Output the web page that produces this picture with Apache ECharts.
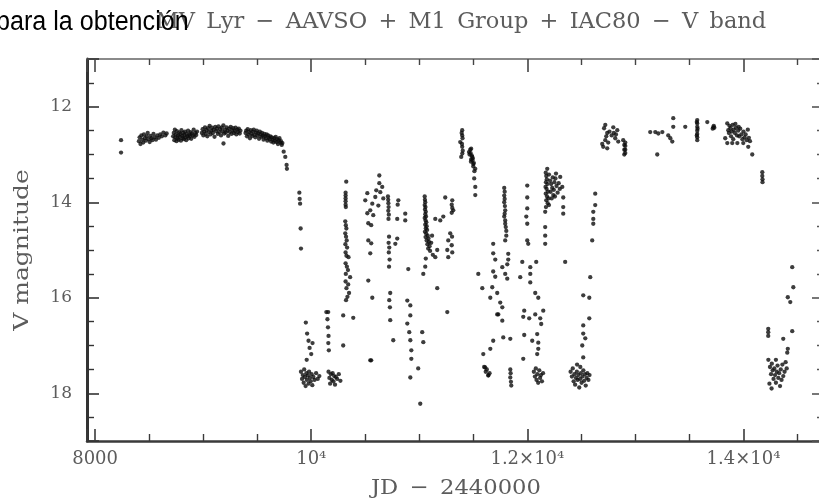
<!DOCTYPE html>
<html>
<head>
<meta charset="utf-8">
<script src="https://cdn.jsdelivr.net/npm/echarts@6/dist/echarts.min.js"></script>
<style>
  html, body { margin: 0; padding: 0; background: #fff; }
  #chart { width: 819px; height: 499px; }
</style>
</head>
<body>
<div id="chart"></div>
<script>
// MV Lyr light curve, V band. Each entry: [JD - 2440000, V magnitude]
const earlyPoints = [[8240, 12.70], [8240, 12.96]];

const highState1 = [
  [8405,12.72],[8412,12.64],[8420,12.78],[8428,12.60],[8436,12.69],[8445,12.75],[8452,12.58],[8460,12.66],
  [8470,12.71],[8478,12.62],[8487,12.55],[8495,12.68],[8505,12.74],[8513,12.61],[8522,12.66],[8530,12.70],
  [8540,12.57],[8552,12.64],[8563,12.69],[8575,12.60],[8590,12.65],[8603,12.58],[8618,12.62],[8632,12.54],
  [8650,12.60],[8662,12.56],
  [8722,12.62],[8728,12.55],[8733,12.70],[8738,12.48],[8742,12.64],[8748,12.58],[8753,12.72],[8757,12.51],
  [8762,12.66],[8768,12.60],[8773,12.69],[8778,12.54],[8783,12.63],[8789,12.57],[8794,12.71],[8799,12.49],
  [8805,12.61],[8810,12.66],[8815,12.55],[8821,12.68],[8826,12.59],[8832,12.52],[8837,12.64],[8843,12.70],
  [8848,12.57],[8854,12.62],[8860,12.50],[8866,12.66],[8872,12.58],[8878,12.61],[8884,12.53],[8890,12.67],
  [8897,12.56],[8905,12.60],[8912,12.48],[8920,12.63],[8928,12.55],[8936,12.59],[8943,12.52],
  [8988,12.55],[8995,12.47],[9002,12.60],[9010,12.52],[9017,12.43],[9024,12.57],[9031,12.49],[9038,12.62],
  [9046,12.45],[9053,12.53],[9060,12.40],[9068,12.58],[9075,12.50],[9082,12.44],[9090,12.55],[9097,12.48],
  [9105,12.63],[9112,12.42],[9120,12.51],[9127,12.46],[9135,12.57],[9142,12.41],[9150,12.53],[9157,12.47],
  [9165,12.60],[9172,12.44],[9180,12.52],[9187,12.39],[9188,12.77],[9195,12.56],[9202,12.48],[9210,12.54],
  [9217,12.43],[9225,12.50],[9232,12.61],[9240,12.46],[9247,12.53],[9255,12.42],[9262,12.57],[9270,12.49],
  [9277,12.45],[9285,12.55],[9292,12.51],[9300,12.44],[9307,12.58],[9315,12.48],[9322,12.53],[9330,12.46],
  [9338,12.56],[9345,12.50],
  [9392,12.55],[9398,12.50],[9405,12.62],[9412,12.47],[9419,12.58],[9426,12.53],[9433,12.66],[9440,12.49],
  [9447,12.57],[9454,12.61],[9461,12.52],[9468,12.48],[9475,12.59],[9482,12.64],[9489,12.54],[9496,12.50],
  [9503,12.60],[9510,12.56],[9517,12.67],[9524,12.52],[9531,12.58],[9538,12.63],[9545,12.55],[9552,12.61],
  [9559,12.69],[9566,12.57],[9573,12.62],[9580,12.66],[9587,12.58],[9594,12.71],[9601,12.60],[9608,12.65],
  [9615,12.68],[9622,12.62],[9629,12.73],[9636,12.64],[9643,12.69],[9650,12.75],[9657,12.66],[9664,12.71],
  [9671,12.63],[9678,12.74],[9685,12.68],[9692,12.78],[9699,12.70],[9706,12.66],[9713,12.75],[9720,12.72],
  [9727,12.80],[9733,12.76],
  [9745,12.94],[9760,13.05],[9772,13.22],[9775,13.30]
];

const lowState1 = [
  [9890,13.80],[9893,13.93],[9897,14.03],[9902,14.55],[9905,14.97],
  [9905,17.55],[9915,17.70],[9922,17.62],[9930,17.78],[9935,17.50],[9942,17.66],[9948,17.85],[9955,17.58],
  [9960,17.72],[9968,17.63],[9975,17.80],[9980,17.55],[9988,17.68],[9995,17.75],[10003,17.60],[10010,17.83],
  [10020,17.66],[10030,17.72],[10045,17.58],[10060,17.70],[10075,17.64],
  [9950,16.52],[9962,16.75],[9975,16.90],[9985,17.05],[10000,17.18],[10012,16.95],[9958,17.30],
  [10140,16.30],[10150,16.45],[10155,16.62],[10160,16.80],[10158,16.95],[10163,17.10],[10157,16.30],
  [10160,17.55],[10168,17.68],[10175,17.80],[10182,17.60],[10190,17.72],[10198,17.58],[10205,17.75],
  [10212,17.64],[10220,17.82],[10228,17.66],[10240,17.70],[10255,17.60],[10270,17.74],
  [10296,17.00],[10546,17.31],
  [10324,13.57],[10318,13.80],[10318,13.86],[10318,13.92],[10318,13.98],[10318,14.05],[10320,14.10],
  [10315,14.40],[10320,14.48],[10325,14.55],[10315,14.65],[10322,14.72],[10328,14.80],[10316,14.88],
  [10332,14.95],[10318,15.05],[10326,15.12],[10345,15.15],[10318,15.28],[10330,15.35],[10340,15.42],
  [10320,15.50],[10360,15.57],[10318,15.66],[10342,15.72],[10326,15.80],[10350,15.90],[10335,15.98],
  [10322,16.05],[10296,16.37],[10389,16.42],
  [10630,13.44],[10630,13.60],[10657,13.68],[10602,13.75],[10639,13.79],[10519,13.81],[10593,13.89],
  [10500,13.96],[10667,13.92],[10565,14.03],[10621,14.07],[10546,14.17],[10519,14.23],[10574,14.27],
  [10528,14.44],[10555,14.48],[10528,14.80],[10555,14.86],[10546,15.07],[10528,15.64],[10565,16.00],
  [10555,17.31],
  [10710,13.88],[10712,13.95],[10714,14.02],[10716,14.10],[10713,14.18],[10718,14.26],[10715,14.35],
  [10720,14.72],[10716,14.85],[10722,14.95],[10718,15.05],[10725,15.20],[10720,15.35],[10731,15.90],
  [10722,16.05],[10728,16.20],[10731,16.47],[10759,16.89],
  [10806,13.96],[10800,14.05],[10796,14.35],[10796,14.76],[10778,14.87],[10870,14.24],[10870,14.38],
  [10889,16.06],[10917,16.16],[10917,16.37],[10889,16.54],[10907,16.72],[10917,16.89],[10926,17.10],
  [10926,17.28],[10990,17.48],[10917,17.67],[11027,16.72],[11037,16.93],[11009,18.22],[10898,15.40],
  [11050,13.88],[11052,13.95],[11055,14.00],[11050,14.06],[11057,14.10],[11053,14.15],[11060,14.20],
  [11055,14.25],[11062,14.30],[11050,14.33],[11058,14.38],[11065,14.42],[11055,14.47],[11068,14.50],
  [11060,14.55],[11072,14.58],[11052,14.62],[11064,14.66],[11078,14.70],[11058,14.73],[11085,14.76],
  [11068,14.80],[11090,14.83],[11075,14.88],[11095,14.92],[11082,14.97],[11100,15.02],[11110,14.85],
  [11118,14.70],[11125,15.10],[11060,15.18],[11055,15.35],[11037,15.50],
  [11166,15.80],[11259,16.30],[11148,14.35],[11166,15.00],[11148,15.15],[11240,13.90],[11305,13.96],
  [11314,14.17],[11286,14.65],[11268,14.80],[11259,15.00],[11268,15.15],[11194,14.38],[11222,14.30],
  [11300,14.05],[11305,14.12],[11300,14.22],[11303,14.72],[11300,14.90],[11305,15.05]
];

const highState2 = [
  [11397,12.49],[11397,12.60],[11379,12.74],[11397,12.84],[11388,13.05],[11392,12.55],[11400,12.66],
  [11395,12.78],[11402,12.92],[11398,12.98],
  [11460,12.95],[11465,13.00],[11471,12.90],[11475,12.97],[11480,12.88],[11480,13.10],[11485,13.02],
  [11478,13.15],[11490,13.05],[11492,13.12],[11495,13.08],[11499,13.20],[11500,13.25],[11505,13.18],
  [11510,13.35],[11518,13.30],[11508,13.50],[11518,13.68],[11518,13.85]
];

const lowState2 = [
  [11546,15.50],[11583,15.80],[11684,14.87],[11684,15.07],[11703,15.20],[11684,15.45],[11703,15.56],
  [11675,15.78],[11657,16.00],[11721,15.90],[11768,15.36],[11795,15.50],[11823,15.20],[11814,15.60],
  [11749,16.10],[11768,16.20],[11731,16.35],[11721,16.35],[11768,16.48],[11777,16.83],[11842,16.86],
  [11684,16.90],[11657,17.07],[11592,17.18],
  [11600,17.45],[11610,17.46],[11615,17.55],[11625,17.50],[11638,17.63],[11640,17.62],[11650,17.58],
  [11842,17.50],[11845,17.58],[11842,17.67],[11848,17.76],[11851,17.84],
  [11786,13.70],[11790,13.78],[11786,13.86],[11790,13.93],[11786,14.00],[11792,14.08],[11795,14.17],
  [11790,14.24],[11786,14.30],[11795,14.38],[11795,14.45],[11800,14.52],[11805,14.60],[11805,14.70],
  [11795,14.80],[11823,15.08],[11814,15.30],
  [11999,13.65],[11999,13.90],[11999,14.13],[11990,14.30],[11999,14.45],[11999,14.80],[12008,14.87],
  [11953,15.25],[12027,15.36],[12082,15.25],[12027,15.50],[11934,15.57],[12027,15.68],[12073,15.90],
  [12101,16.00],[11971,16.27],[11962,16.40],[12017,16.43],[12073,16.35],[12147,16.27],[12119,16.43],
  [12128,16.55],[12091,16.76],[11971,16.78],[12045,16.90],[12101,16.94],[12101,17.07],[12091,17.18],
  [11962,17.28],
  [12060,17.55],[12070,17.65],[12078,17.48],[12085,17.72],[12092,17.60],[12100,17.78],[12110,17.52],
  [12118,17.68],[12126,17.62],[12135,17.75],[12145,17.58]
];

const highState3 = [
  [12184,13.30],[12170,13.38],[12175,13.45],[12180,13.52],[12172,13.58],[12185,13.62],[12168,13.68],
  [12178,13.72],[12190,13.78],[12170,13.82],[12182,13.88],[12195,13.92],[12175,13.96],[12188,14.02],
  [12200,14.06],[12172,14.10],[12210,13.55],[12220,13.62],[12230,13.70],[12215,13.78],[12240,13.85],
  [12225,13.92],[12250,13.58],[12260,13.50],[12270,13.66],[12245,13.74],[12280,13.80],[12255,13.88],
  [12290,13.60],[12300,13.72],[12304,13.47],[12323,13.68],[12332,13.90],[12332,14.10],[12332,14.24],
  [12200,13.42],[12235,13.48],[12265,13.40],
  [12165,14.20],[12165,14.52],[12165,14.70],[12165,14.87],[12350,15.25]
];

const lowState3 = [
  [12628,13.82],[12628,14.06],[12610,14.20],[12610,14.35],[12610,14.45],[12600,14.80],[12582,15.57],
  [12517,15.95],[12573,16.00],[12573,16.43],[12517,16.58],[12517,16.75],[12536,16.85],[12508,17.00],
  [12517,17.25],
  [12400,17.55],[12412,17.65],[12420,17.48],[12428,17.75],[12435,17.60],[12442,17.82],[12450,17.68],
  [12458,17.55],[12465,17.72],[12472,17.62],[12480,17.88],[12488,17.70],[12495,17.58],[12502,17.78],
  [12510,17.65],[12518,17.52],[12525,17.74],[12533,17.60],[12540,17.84],[12548,17.68],[12555,17.58],
  [12565,17.72],[12575,17.62],[12460,17.40],[12490,17.45]
];

const highState4 = [
  [12721,12.38],[12739,12.55],[12721,12.70],[12702,12.84],[12739,12.87],[12795,12.43],[12832,12.49],
  [12813,12.66],[12841,12.73],[12887,12.70],[12897,12.80],[12897,12.90],[12897,13.00],[12710,12.45],
  [12730,12.62],[12748,12.75],[12760,12.52],[12780,12.60],[12800,12.55],[12820,12.58],[12693,12.78],
  [12906,12.75],[12906,12.82],[12906,12.90],[12906,12.97],
  [13137,12.53],[13184,12.53],[13212,12.56],[13249,12.53],[13202,13.00],[13304,12.60],[13323,12.66],
  [13341,12.73],[13350,12.24],[13350,12.42],[13461,12.42],
  [13572,12.28],[13572,12.35],[13572,12.42],[13572,12.50],[13572,12.57],[13572,12.64],[13572,12.70],
  [13568,12.32],[13575,12.46],[13568,12.60],
  [13665,12.32],[13720,12.43],[13725,12.40],[13715,12.46],[13730,12.44],
  [13850,12.35],[13859,12.49],[13831,12.66],[13850,12.76],[13896,12.76],[13943,12.76],[13998,12.76],
  [14044,12.84],[14081,13.00],[13870,12.40],[13880,12.45],[13890,12.52],[13900,12.38],[13910,12.48],
  [13920,12.55],[13930,12.44],[13940,12.60],[13950,12.50],[13960,12.62],[13970,12.46],[13980,12.58],
  [13990,12.68],[14000,12.52],[14010,12.64],[14020,12.58],[14030,12.70],[14040,12.48],[14050,12.65],
  [14060,12.72],[13865,12.55],[13885,12.62],[13905,12.68],[13925,12.36],[13955,12.42],
  [14174,13.37],[14174,13.45],[14176,13.52],[14176,13.58]
];

const lowState4 = [
  [14451,15.36],[14461,15.78],[14410,15.99],[14433,16.09],[14229,16.65],[14229,16.72],[14229,16.80],
  [14451,16.70],[14368,16.86],[14410,17.07],[14405,17.15],
  [14230,17.30],[14245,17.45],[14255,17.60],[14262,17.38],[14270,17.52],[14278,17.70],[14285,17.48],
  [14292,17.62],[14300,17.78],[14308,17.55],[14315,17.42],[14322,17.68],[14330,17.58],[14338,17.85],
  [14345,17.50],[14352,17.72],[14360,17.40],[14368,17.64],[14380,17.55],[14390,17.35],[14400,17.48],
  [14240,17.80],[14260,17.90],[14300,17.30]
];

// Axis tick labels
const xTickValues = [8000, 10000, 12000, 14000];
const xTickLabels = ['8000', '10\u2074', '1.2\u00d710\u2074', '1.4\u00d710\u2074'];
const yTickValues = [12, 14, 16, 18];

const chartTitle = 'MV\u2002Lyr\u2002\u2212\u2002AAVSO\u2002+\u2002M1\u2002Group\u2002+\u2002IAC80\u2002\u2212\u2002V\u2002band';
const overlayText = 'para la obtención';
const xAxisTitle = 'JD\u2002\u2212\u20022440000';
const yAxisTitle = 'V magnitude';

const allPoints = [].concat(earlyPoints, highState1, lowState1, highState2, lowState2,
                            highState3, lowState3, highState4, lowState4);

const serif = '"DejaVu Serif", "Liberation Serif", serif';
const textGrey = '#5c5c5c';
const X_MIN = 7925, X_MAX = 14745, Y_MIN = 11, Y_MAX = 19;

function xLabel(v) {
  const i = xTickValues.indexOf(v);
  return i >= 0 ? xTickLabels[i] : '';
}
function yLabel(v) {
  return yTickValues.indexOf(v) >= 0 ? String(v) : '';
}

const frameTick = (len, color) => ({
  show: true, inside: true, length: len,
  lineStyle: { color: color, width: 1.6 }
});
const frameMinor = (len, color) => ({
  show: true, splitNumber: 4, length: len,
  lineStyle: { color: color, width: 1.4 }
});

const chart = echarts.init(document.getElementById('chart'), null, { renderer: 'canvas' });
chart.setOption({
  animation: false,
  backgroundColor: '#ffffff',
  grid: { left: 87, top: 59, width: 737, height: 382, containLabel: false, outerBoundsMode: 'none' },
  xAxis: [
    {
      type: 'value', position: 'bottom', min: X_MIN, max: X_MAX, splitNumber: 3,
      axisLine: { show: true, onZero: false, lineStyle: { color: '#3a3a3a', width: 2.5 } },
      axisTick: frameTick(12, '#3a3a3a'),
      minorTick: frameMinor(7, '#3a3a3a'),
      splitLine: { show: false },
      axisLabel: {
        show: true, margin: 9, showMinLabel: false, showMaxLabel: false,
        formatter: xLabel, color: textGrey, fontFamily: serif, fontSize: 18
      }
    },
    {
      type: 'value', position: 'top', min: X_MIN, max: X_MAX, splitNumber: 3,
      axisLine: { show: true, onZero: false, lineStyle: { color: '#8a8a8a', width: 2 } },
      axisTick: frameTick(13, '#444'),
      minorTick: frameMinor(6, '#444'),
      splitLine: { show: false },
      axisLabel: { show: false }
    }
  ],
  yAxis: [
    {
      type: 'value', position: 'left', inverse: true, min: Y_MIN, max: Y_MAX, splitNumber: 4,
      axisLine: { show: true, onZero: false, lineStyle: { color: '#333', width: 3 } },
      axisTick: frameTick(12, '#333'),
      minorTick: frameMinor(7, '#333'),
      splitLine: { show: false },
      axisLabel: {
        show: true, margin: 15, showMinLabel: false, showMaxLabel: false,
        formatter: yLabel, color: textGrey, fontFamily: serif, fontSize: 17
      }
    },
    {
      type: 'value', position: 'right', inverse: true, min: Y_MIN, max: Y_MAX, splitNumber: 4,
      axisLine: { show: true, onZero: false, lineStyle: { color: '#555', width: 2 } },
      axisTick: frameTick(12, '#555'),
      minorTick: frameMinor(7, '#555'),
      splitLine: { show: false },
      axisLabel: { show: false }
    }
  ],
  series: [{
    type: 'scatter',
    xAxisIndex: 0, yAxisIndex: 0,
    data: allPoints,
    symbol: 'circle',
    symbolSize: 4.3,
    itemStyle: { color: '#0d0d0d' },
    large: false,
    silent: true
  }],
  graphic: [
    {
      type: 'text', x: 461, y: 22, z: 10,
      style: {
        text: chartTitle, fill: textGrey, font: '22.5px ' + serif,
        align: 'center', verticalAlign: 'middle'
      }
    },
    {
      type: 'text', x: -4, y: 23, z: 20, scaleX: 0.93,
      style: {
        text: overlayText, fill: '#000', font: '27px "Liberation Sans", Arial, sans-serif',
        align: 'left', verticalAlign: 'middle'
      }
    },
    {
      type: 'text', x: 456, y: 489, z: 10, scaleX: 1.08,
      style: {
        text: xAxisTitle, fill: textGrey, font: '21px ' + serif,
        align: 'center', verticalAlign: 'middle'
      }
    },
    {
      type: 'text', x: 23, y: 250, z: 10, rotation: Math.PI / 2, scaleX: 1.25,
      style: {
        text: yAxisTitle, fill: textGrey, font: '20px ' + serif,
        align: 'center', verticalAlign: 'middle'
      }
    }
  ]
});
</script>
</body>
</html>
